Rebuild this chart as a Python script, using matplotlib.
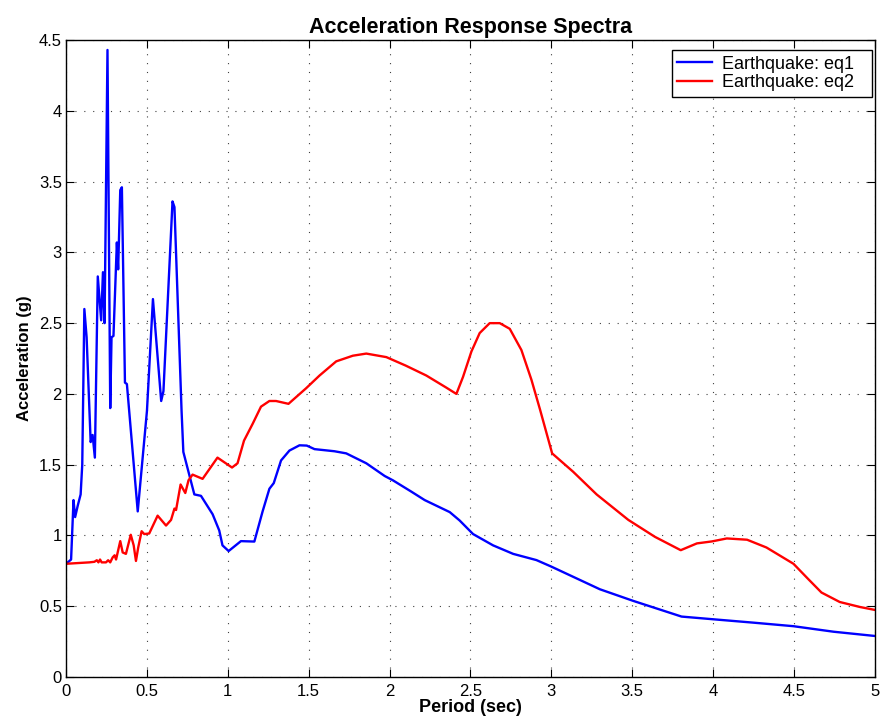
import matplotlib
matplotlib.use("Agg")
import matplotlib.pyplot as plt

# eq1 spectrum
period_eq1 = [0.0, 0.031, 0.046, 0.056, 0.072, 0.09, 0.10, 0.113, 0.127, 0.152,
              0.164, 0.178, 0.196, 0.217, 0.228, 0.238, 0.256, 0.273, 0.281, 0.293,
              0.314, 0.322, 0.335, 0.345, 0.364, 0.376, 0.443, 0.50, 0.537, 0.588,
              0.602, 0.658, 0.67, 0.714, 0.725, 0.793, 0.834, 0.906, 0.947, 0.967,
              1.005, 1.081, 1.164, 1.215, 1.257, 1.284, 1.329, 1.381, 1.443, 1.488,
              1.536, 1.659, 1.732, 1.856, 1.97, 2.02, 2.134, 2.217, 2.372, 2.433,
              2.516, 2.64, 2.764, 2.908, 3.0, 3.3, 3.506, 3.805, 4.0, 4.25,
              4.497, 4.745, 5.0]
acc_eq1 = [0.80, 0.83, 1.25, 1.13, 1.21, 1.29, 1.50, 2.60, 2.40, 1.66,
           1.71, 1.55, 2.83, 2.52, 2.86, 2.50, 4.43, 1.90, 2.40, 2.41,
           3.07, 2.88, 3.44, 3.46, 2.08, 2.07, 1.17, 1.88, 2.67, 1.95,
           2.02, 3.36, 3.32, 1.88, 1.59, 1.29, 1.28, 1.15, 1.035, 0.93,
           0.89, 0.96, 0.957, 1.17, 1.33, 1.37, 1.53, 1.60, 1.637, 1.635,
           1.61, 1.595, 1.58, 1.51, 1.42, 1.39, 1.31, 1.25, 1.165, 1.106,
           1.01, 0.93, 0.87, 0.826, 0.78, 0.62, 0.538, 0.427, 0.408, 0.384,
           0.359, 0.32, 0.29]

# eq2 spectrum
period_eq2 = [0.0, 0.144, 0.175, 0.19, 0.20, 0.21, 0.22, 0.247, 0.26, 0.273,
              0.288, 0.30, 0.309, 0.335, 0.35, 0.37, 0.40, 0.418, 0.432, 0.446,
              0.467, 0.483, 0.514, 0.566, 0.618, 0.649, 0.67, 0.68, 0.708, 0.737,
              0.757, 0.782, 0.844, 0.936, 1.026, 1.06, 1.10, 1.154, 1.205, 1.257,
              1.298, 1.375, 1.484, 1.567, 1.67, 1.773, 1.856, 1.98, 2.10, 2.227,
              2.35, 2.413, 2.454, 2.506, 2.557, 2.619, 2.681, 2.743, 2.815, 2.877,
              2.93, 3.005, 3.135, 3.28, 3.476, 3.641, 3.80, 3.90, 3.993, 4.085,
              4.21, 4.33, 4.497, 4.59, 4.67, 4.783, 4.907, 5.0]
acc_eq2 = [0.80, 0.81, 0.814, 0.825, 0.81, 0.83, 0.81, 0.81, 0.825, 0.81,
           0.845, 0.86, 0.83, 0.96, 0.88, 0.87, 1.005, 0.93, 0.82, 0.915,
           1.03, 1.01, 1.014, 1.14, 1.07, 1.11, 1.19, 1.18, 1.36, 1.30,
           1.39, 1.43, 1.40, 1.55, 1.48, 1.51, 1.67, 1.79, 1.91, 1.95,
           1.95, 1.93, 2.04, 2.13, 2.23, 2.27, 2.285, 2.26, 2.20, 2.13,
           2.045, 2.0, 2.12, 2.30, 2.43, 2.50, 2.50, 2.46, 2.31, 2.10,
           1.89, 1.58, 1.45, 1.29, 1.11, 0.99, 0.896, 0.944, 0.958, 0.979,
           0.97, 0.915, 0.80, 0.69, 0.597, 0.53, 0.495, 0.474]

x_ticks = [0, 0.5, 1, 1.5, 2, 2.5, 3, 3.5, 4, 4.5, 5]
x_tick_labels = ["0", "0.5", "1", "1.5", "2", "2.5", "3", "3.5", "4", "4.5", "5"]
y_ticks = [0, 0.5, 1, 1.5, 2, 2.5, 3, 3.5, 4, 4.5]
y_tick_labels = ["0", "0.5", "1", "1.5", "2", "2.5", "3", "3.5", "4", "4.5"]

plt.rcParams['font.family'] = ['Liberation Sans', 'DejaVu Sans']

fig = plt.figure(figsize=(8.81, 7.23), dpi=100)
ax = fig.add_axes([0.075, 0.0636, 0.918, 0.881])

ax.plot(period_eq1, acc_eq1, color='#0000ff', lw=1.7, label='Earthquake: eq1')
ax.plot(period_eq2, acc_eq2, color='#ff0000', lw=1.7, label='Earthquake: eq2')

ax.set_xlim(0, 5)
ax.set_ylim(0, 4.5)
ax.set_xticks(x_ticks)
ax.set_xticklabels(x_tick_labels)
ax.set_yticks(y_ticks)
ax.set_yticklabels(y_tick_labels)
ax.tick_params(direction='in', top=True, right=True, length=6, width=0.8, labelsize=12)
ax.tick_params(axis='x', pad=5)
ax.tick_params(axis='y', pad=3)
for s in ax.spines.values():
    s.set_linewidth(1.0)

ax.grid(True, color='0.25', linestyle=(0, (1, 7)), linewidth=0.8)

ax.set_title('Acceleration Response Spectra', fontsize=15.5, fontweight='bold', pad=5)
ax.set_xlabel('Period (sec)', fontsize=13, fontweight='bold', labelpad=0)
ax.set_ylabel('Acceleration (g)', fontsize=12, fontweight='bold', labelpad=5)

# legend box stretched to the width seen in the reference
leg = ax.legend(loc='upper left', bbox_to_anchor=(0.749, 0.0, 0.247, 0.984),
                mode='expand', fontsize=13, fancybox=False, framealpha=1,
                edgecolor='black', borderaxespad=0, handlelength=1.9,
                handletextpad=0.6, borderpad=0.3, labelspacing=0.1)
leg.get_frame().set_linewidth(1.0)

plt.savefig('out.png', dpi=100)
